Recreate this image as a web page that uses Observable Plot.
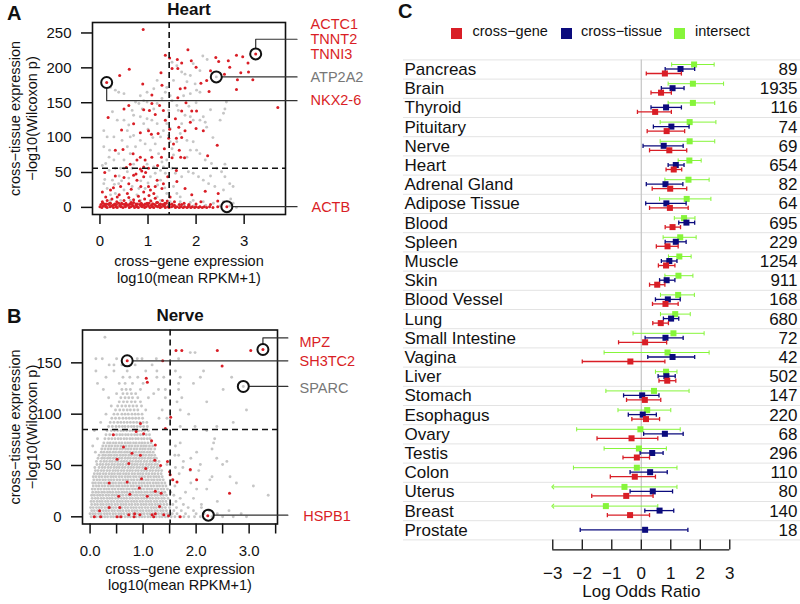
<!DOCTYPE html>
<html><head><meta charset="utf-8">
<script src="https://cdn.jsdelivr.net/npm/d3@7"></script>
<script src="https://cdn.jsdelivr.net/npm/@observablehq/plot@0.6"></script>
<style>
body{margin:0;background:#fff;}
#wrap{position:relative;width:800px;height:604px;overflow:hidden;background:#fff;font-family:"Liberation Sans",Arial,Helvetica,sans-serif;color:#111;}
.panel{position:absolute;}
.letter{position:absolute;font-weight:bold;font-size:20px;line-height:20px;}
.leg{position:absolute;font-size:14.5px;line-height:17px;top:23px;white-space:nowrap;}
.sw{position:absolute;width:11px;height:11px;top:27.5px;}
</style></head><body>
<div id="wrap">
  <div class="letter" style="left:7px;top:3px">A</div>
  <div class="letter" style="left:7px;top:306px">B</div>
  <div class="letter" style="left:398px;top:1px">C</div>
  <div class="sw" style="left:451px;background:#d91e26"></div><div class="leg" style="left:472.5px">cross−gene</div>
  <div class="sw" style="left:561px;background:#0b0b7d"></div><div class="leg" style="left:581px">cross−tissue</div>
  <div class="sw" style="left:674px;background:#86f53a"></div><div class="leg" style="left:695px">intersect</div>
</div>
<script>
const FONT = '"Liberation Sans", Arial, Helvetica, sans-serif';
const RED = "#d91e26", GRAY = "#c6c6c6", NAVY = "#0b0b7d", GREEN = "#86f53a", LABELGRAY = "#777777";

// ---------- Panel A: Heart ----------
const heartXCut = 1.44, heartYCut = 56;
const heartGray = [[1.50,208],[1.60,203],[1.94,206],[2.14,217],[2.23,212],[2.08,196],[1.70,194],[1.77,191],[1.88,189],[1.81,180],[1.98,177],[2.01,168],[2.08,165],[1.88,163],[1.74,160],[1.53,182],[1.39,172],[1.36,165],[1.46,160],[1.19,182],[1.12,170],[0.98,165],[0.84,160],[0.50,163],[0.39,165],[0.32,168],[0.22,172],[0.74,151],[0.88,141],[0.98,151],[1.12,141],[1.50,153],[1.60,146],[1.63,139],[1.77,132],[1.88,130],[1.94,125],[2.08,125],[2.19,122],[2.63,151],[2.60,141],[2.57,135],[2.50,125],[2.15,130],[2.22,115],[1.67,106],[1.60,94],[1.81,96],[1.94,94],[1.88,82],[2.01,82],[1.81,72],[2.08,77],[2.19,68],[2.32,63],[2.43,56],[2.53,51],[2.60,44],[2.70,34],[2.77,30],[2.57,25],[2.39,30],[2.26,34],[2.15,39],[2.05,44],[1.94,49],[1.84,51],[1.70,44],[1.57,49],[1.50,56],[1.53,30],[1.60,20],[1.67,15],[1.94,10],[2.15,8],[2.36,6],[2.57,8],[2.77,6],[2.84,0],[2.08,1],[2.42,187],
[0.08,110],[0.15,101],[0.08,87],[0.19,72],[0.12,63],[0.29,68],[0.29,101],[0.36,125],[0.26,137],[0.50,125],[0.57,110],[0.63,101],[0.46,96],[0.57,87],[0.39,77],[0.50,68],[0.19,53],[0.26,39],[0.39,34],[0.08,34],[0.15,27],[0.32,20],[0.50,25],[0.67,30],[0.81,27],[0.94,27],[1.05,44],[1.15,49],[1.26,53],[1.32,58],[1.36,49],[1.26,39],[1.12,58],[1.22,77],[1.15,91],[1.05,82],[0.94,91],[0.84,96],[0.74,87],[0.70,103],[0.63,77],[0.67,56],[0.57,51],[0.50,56],[0.43,56],[0.32,56],[1.26,101],[1.32,110],[1.19,120],[1.08,125],[0.98,127],[0.84,130],[0.91,120],[0.70,132],[0.67,139],[0.81,149],[0.91,153],[1.19,149],[1.29,156],[1.43,139],[1.43,130],[1.39,120],[1.46,113],[1.43,103],[1.46,94],[1.50,84],[1.53,75],[1.39,68],[1.29,65],
[0.22,10],[0.43,10],[0.63,10],[0.84,10],[1.05,10],[1.26,10],[1.46,8],[1.67,8],[1.88,7],[0.22,18],[0.77,18],[1.19,15],[1.39,20],[0.10,40],[0.30,33],[0.45,38],[0.60,42],[0.85,38],[1.00,35],[1.20,32],[1.35,28],[0.15,3],[0.35,2],[0.55,3],[0.75,2],[0.95,3],[1.15,2],[1.35,3],[1.55,2],[1.75,3],[1.95,2],[2.20,3],[2.50,2],[2.70,2],[0.05,60],[0.2,82],[0.4,45],[0.7,62],[0.98,62],[1.1,100],[0.6,118],[1.0,112],[2.35,100],[2.72,12],[2.3,45],[2.6,62],[1.7,120],[1.85,145],[2.0,150],[2.3,140]];
const heartRed = [[0.90,255],[1.83,226],[1.36,218],[1.45,214],[0.61,198],[0.41,189],[1.27,193],[1.50,199],[1.61,212],[1.70,207],[1.90,210],[2.00,201],[1.62,199],[2.41,215],[2.47,209],[2.67,210],[2.84,218],[2.97,216],[3.08,207],[2.70,201],[2.93,193],[3.09,194],[3.18,183],[2.86,183],[2.84,169],[2.59,191],[2.30,196],[2.22,182],[2.10,178],[2.27,166],[3.70,143],[1.67,170],[1.77,171],[1.29,175],[1.08,161],[0.89,177],[0.50,141],[0.17,129],[0.60,146],[0.91,140],[1.03,139],[1.24,146],[1.32,139],[1.62,157],[1.79,150],[1.70,138],[1.91,138],[2.01,138],[1.08,149],[1.15,133],[1.36,125],[1.57,127],[1.64,115],[1.88,122],[2.00,113],[2.15,110],[1.77,110],[1.45,112],[0.70,120],[0.45,111],[1.01,110],[1.21,106],[1.07,105],[0.84,107],[1.43,99],[1.59,99],[1.70,100],[1.53,91],[1.34,84],[0.32,82],[0.48,83],[0.69,77],[0.84,72],[0.94,68],[1.08,72],[0.77,68],[0.63,62],[0.84,55],[0.87,52],[0.91,58],[1.01,56],[1.28,72],[1.68,72],[1.76,71],[1.50,71],[1.65,82],[2.44,89],[2.24,74],[0.10,50],[0.32,45],[0.50,43],[0.70,46],[0.77,39],[0.91,44],[1.19,39],[1.32,34],[1.15,30],[1.01,30],[0.60,34],[0.43,30],[0.22,25],[0.05,22],[0.12,15],[0.36,15],[0.57,20],[0.91,22],[1.12,20],[1.29,27],[1.41,44],[1.59,53],[1.60,37],[1.77,27],[1.91,18],[2.19,23],[2.46,20],[1.46,15],
[0.05,8],[0.10,5],[0.15,10],[0.20,6],[0.25,12],[0.30,4],[0.35,8],[0.40,18],[0.45,6],[0.50,10],[0.55,4],[0.60,14],[0.65,7],[0.70,11],[0.75,5],[0.80,16],[0.82,9],[0.88,4],[0.93,12],[0.98,6],[1.02,17],[1.06,9],[1.10,5],[1.15,13],[1.20,7],[1.25,4],[1.30,10],[1.35,6],[1.40,9],[1.50,5],[1.55,8],[1.65,4],[1.75,6],[1.85,4],[2.00,5],[2.10,8],[2.30,4],[2.45,9],[0.28,28],[0.65,26],[0.85,30],[1.05,25],[0.75,48],[0.95,50],[1.20,60],[0.55,57],[3.24,220],[0.14,179],[2.64,1],
[0.00,1],[0.04,0],[0.07,2],[0.12,1],[0.15,0],[0.21,1],[0.24,2],[0.28,0],[0.33,1],[0.36,0],[0.41,2],[0.44,1],[0.48,0],[0.53,1],[0.56,3],[0.61,0],[0.64,1],[0.69,2],[0.72,0],[0.77,1],[0.80,0],[0.85,2],[0.88,1],[0.93,0],[0.96,1],[1.01,2],[1.04,0],[1.09,1],[1.12,0],[1.17,2],[1.20,1],[1.25,0],[1.28,1],[1.33,2],[1.36,0],[1.41,1],[1.44,0],[1.49,1],[1.52,2],[1.57,0],[1.60,1],[1.65,0],[1.68,1],[1.73,0],[1.76,1],[1.81,0],[1.84,1],[1.89,0],[1.92,1],[1.97,0],[2.00,1],[2.05,0],[2.08,1],[2.13,0],[2.17,1],[2.22,0],[2.28,1],[2.35,0],[2.45,1],
[0.02,4],[0.06,6],[0.11,3],[0.14,5],[0.19,4],[0.22,6],[0.27,3],[0.31,5],[0.34,4],[0.39,6],[0.42,3],[0.47,5],[0.51,4],[0.54,6],[0.59,3],[0.62,5],[0.67,4],[0.70,7],[0.75,3],[0.78,5],[0.83,4],[0.86,6],[0.91,3],[0.94,5],[0.99,4],[1.02,6],[1.07,3],[1.10,5],[1.14,4],[1.18,7],[1.23,3],[1.26,5],[1.31,4],[1.34,3],[1.38,6],[1.45,4],[1.55,3],[1.70,4],[1.85,3]];
const heartCircles = [[3.24,220],[2.42,187],[0.14,179],[2.64,1]];
const heartLabels = [["ACTC1",4.38,263,RED],["TNNT2",4.38,241,RED],["TNNI3",4.38,219.6,RED],["ATP2A2",4.38,187,LABELGRAY],["NKX2-6",4.38,153,RED],["ACTB",4.40,0,RED]];
const heartLeaders = [[[3.24,228],[3.24,241],[4.10,241]],[[2.535,187],[4.10,187]],[[0.14,171],[0.14,153],[4.10,153]],[[2.755,1],[4.10,1]]];

// ---------- Panel B: Nerve ----------
const nerveXCut = 1.51, nerveYCut = 85;
const nerveGrayRows = [
[0,[0.02,0.07,0.12,0.18,0.23,0.28,0.33,0.39,0.44,0.49,0.55,0.6,0.66,0.71,0.76,0.82,0.87,0.93,0.98,1.03,1.09,1.14,1.2,1.25,1.31,1.36,1.42,1.47,1.53,1.6,1.68,1.77,1.86,1.97,2.08,2.3,2.5,2.7,2.95]],
[3,[0.0,0.05,0.1,0.16,0.21,0.27,0.32,0.37,0.43,0.48,0.54,0.59,0.64,0.7,0.75,0.81,0.86,0.91,0.97,1.02,1.08,1.13,1.18,1.24,1.29,1.35,1.4,1.46,1.55,1.64,1.8,2.0,2.15,2.4,2.85]],
[6,[0.03,0.08,0.14,0.19,0.25,0.3,0.35,0.41,0.46,0.52,0.57,0.62,0.68,0.73,0.79,0.84,0.89,0.95,1.0,1.06,1.11,1.16,1.22,1.27,1.33,1.38,1.44,1.58,1.72,1.95,2.25,2.62]],
[9,[0.01,0.06,0.12,0.17,0.22,0.28,0.33,0.39,0.44,0.49,0.55,0.6,0.66,0.71,0.77,0.82,0.87,0.93,0.98,1.04,1.09,1.15,1.2,1.25,1.31,1.36,1.42,1.5,1.63,1.85,2.1]],
[12,[0.03,0.09,0.14,0.2,0.25,0.31,0.36,0.41,0.47,0.52,0.58,0.63,0.68,0.74,0.79,0.85,0.9,0.96,1.01,1.06,1.12,1.17,1.23,1.28,1.33,1.39,1.45,1.56,1.76,2.1]],
[15,[0.02,0.07,0.13,0.18,0.23,0.29,0.34,0.4,0.45,0.51,0.56,0.61,0.67,0.72,0.78,0.83,0.88,0.94,0.99,1.05,1.1,1.15,1.21,1.26,1.32,1.37,1.43,1.62,2.4]],
[18,[0.04,0.1,0.15,0.21,0.26,0.32,0.37,0.42,0.48,0.53,0.59,0.64,0.69,0.75,0.8,0.86,0.91,0.97,1.02,1.07,1.13,1.18,1.24,1.29,1.35,1.4,1.47,1.7,1.95]],
[21,[0.03,0.08,0.14,0.19,0.24,0.3,0.35,0.41,0.46,0.51,0.57,0.62,0.68,0.73,0.78,0.84,0.89,0.95,1.0,1.05,1.11,1.16,1.22,1.27,1.33,1.38,1.44,1.58,3.36]],
[24,[0.05,0.11,0.16,0.22,0.27,0.33,0.38,0.43,0.49,0.54,0.6,0.65,0.7,0.76,0.81,0.87,0.92,0.97,1.03,1.08,1.14,1.19,1.25,1.3,1.36,1.41,1.52,1.8]],
[27,[0.04,0.09,0.15,0.2,0.26,0.31,0.36,0.42,0.47,0.53,0.58,0.63,0.69,0.74,0.8,0.85,0.9,0.96,1.01,1.07,1.12,1.17,1.23,1.28,1.34,1.39,1.46,2.2,2.01]],
[30,[0.06,0.12,0.17,0.23,0.28,0.34,0.39,0.44,0.5,0.55,0.61,0.66,0.71,0.77,0.82,0.88,0.93,0.98,1.04,1.09,1.15,1.2,1.26,1.31,1.37,1.43,1.6,3.08]],
[33,[0.05,0.1,0.16,0.21,0.27,0.32,0.38,0.43,0.48,0.54,0.59,0.65,0.7,0.75,0.81,0.86,0.92,0.97,1.02,1.08,1.13,1.19,1.24,1.29,1.35,1.41,1.9,2.76]],
[36,[0.07,0.13,0.18,0.24,0.29,0.35,0.4,0.45,0.51,0.56,0.62,0.67,0.72,0.78,0.83,0.89,0.94,0.99,1.05,1.1,1.16,1.21,1.27,1.32,1.38,1.55,2.26]],
[39,[0.06,0.11,0.17,0.22,0.28,0.33,0.39,0.44,0.49,0.55,0.6,0.66,0.71,0.76,0.82,0.87,0.93,0.98,1.03,1.09,1.14,1.2,1.25,1.3,1.36,2.3,2.64]],
[42,[0.08,0.14,0.19,0.25,0.3,0.36,0.41,0.46,0.52,0.57,0.63,0.68,0.73,0.79,0.84,0.9,0.95,1.0,1.06,1.11,1.17,1.22,1.28,1.34,1.68]],
[45,[0.1,0.15,0.21,0.26,0.32,0.37,0.43,0.48,0.53,0.59,0.64,0.7,0.75,0.8,0.86,0.91,0.97,1.02,1.07,1.13,1.18,1.24,1.29,1.35,2.05,1.89]],
[48,[0.09,0.17,0.23,0.28,0.34,0.39,0.45,0.5,0.55,0.61,0.66,0.72,0.77,0.82,0.88,0.93,0.99,1.04,1.09,1.15,1.2,1.26,1.31,1.75,1.61]],
[51,[0.13,0.19,0.24,0.3,0.35,0.41,0.46,0.52,0.57,0.62,0.68,0.73,0.79,0.84,0.89,0.95,1.0,1.06,1.11,1.16,1.22,1.27,1.45,2.5,2.08]],
[54,[0.12,0.2,0.26,0.31,0.37,0.42,0.48,0.53,0.59,0.64,0.69,0.75,0.8,0.86,0.91,0.96,1.02,1.07,1.13,1.18,1.24,1.3,1.76,2.58]],
[57,[0.15,0.22,0.27,0.33,0.38,0.44,0.49,0.55,0.6,0.66,0.71,0.76,0.82,0.87,0.93,0.98,1.03,1.09,1.14,1.2,1.25,1.9,2.39]],
[60,[0.17,0.24,0.29,0.35,0.4,0.46,0.51,0.57,0.62,0.67,0.73,0.78,0.84,0.89,0.94,1.0,1.05,1.11,1.16,1.22,1.6,1.67]],
[63,[0.1,0.21,0.26,0.32,0.37,0.43,0.48,0.54,0.59,0.65,0.7,0.75,0.81,0.86,0.92,0.97,1.02,1.08,1.13,1.19,2.01]],
[66,[0.22,0.28,0.34,0.39,0.45,0.5,0.56,0.61,0.67,0.72,0.77,0.83,0.88,0.94,0.99,1.04,1.1,1.15,1.22,2.3]],
[69,[0.05,0.24,0.3,0.36,0.41,0.47,0.52,0.58,0.63,0.68,0.74,0.79,0.85,0.9,0.96,1.01,1.06,1.12,1.18,1.61]],
[72,[0.26,0.33,0.38,0.44,0.49,0.55,0.6,0.66,0.71,0.76,0.82,0.87,0.93,0.98,1.03,1.09,1.15,1.7,2.33]],
[76,[0.14,0.28,0.35,0.41,0.47,0.53,0.58,0.64,0.69,0.75,0.8,0.86,0.91,0.97,1.02,1.08,1.13,2.35]],
[80,[0.3,0.37,0.43,0.5,0.56,0.61,0.67,0.72,0.78,0.84,0.89,0.95,1.0,1.06,1.12]],
[84,[0.08,0.32,0.4,0.46,0.52,0.58,0.63,0.69,0.75,0.8,0.86,0.92,0.97,1.03,1.1,2.2]],
[88,[0.35,0.42,0.49,0.55,0.61,0.66,0.72,0.78,0.83,0.89,0.95,1.01,1.08,1.7,1.98,2.39]],
[92,[0.2,0.38,0.45,0.52,0.58,0.64,0.7,0.76,0.82,0.88,0.94,1.0,1.07,2.7]],
[96,[0.41,0.48,0.55,0.62,0.68,0.74,0.8,0.86,0.92,0.99,1.3,1.45]],
[100,[0.3,0.45,0.52,0.6,0.66,0.72,0.79,0.85,0.91,0.98,1.86]],
[104,[0.48,0.56,0.63,0.7,0.76,0.83,0.9,1.05,1.7,2.95,1.36]],
[108,[0.4,0.52,0.6,0.67,0.74,0.81,0.88,0.97]],
[112,[0.55,0.63,0.7,0.78,0.85,0.95,1.64,2.2]],
[116,[0.35,0.58,0.66,0.73,0.8,0.9,1.1,1.42,1.73]],
[120,[0.5,0.62,0.7,0.78,0.86,1.2]],
[124,[0.25,0.6,0.68,0.76,0.95,1.42,1.67,2.51,1.29]],
[130,[0.14,0.55,0.66,0.8,1.0,1.67,1.95]],
[136,[0.3,0.62,0.75,0.9,1.26,1.39,1.7,2.08,2.67]],
[142,[0.11,0.45,0.7,1.05,1.26,1.61,2.14]],
[148,[0.36,0.6,0.85,1.17,0.45]],
[154,[0.11,0.23,0.5,0.89,1.25,0.98,1.67]],
[160,[1.89,1.98]],
[175,[0.28]]];
const nerveGray = nerveGrayRows.flatMap(([y, xs]) => xs.map(x => [x, y])).concat([[2.89,127]]);
const nerveRed = [[1.62,162],[1.73,162],[2.40,162],[3.03,162],[3.26,163],[2.49,147],[0.70,152],[1.06,135],[1.08,131],[1.37,152],[1.52,97],[0.95,91],[0.87,83],[0.44,80],[1.01,81],[1.42,86],[1.16,74],[1.23,70],[0.63,68],[0.79,62],[0.95,60],[0.51,56],[0.73,52],[1.05,47],[1.22,55],[1.33,50],[1.46,54],[1.89,46],[1.51,41],[1.56,36],[2.01,36],[0.97,37],[1.64,34],[0.36,33],[0.70,34],[0.93,28],[1.23,25],[1.34,23],[0.75,22],[0.54,20],[1.08,20],[2.63,23],[0.18,6],[0.36,9],[0.56,9],[0.73,2],[0.84,3],[0.94,2],[1.17,2],[1.23,3],[1.31,10],[1.39,2],[1.48,1],[1.70,0],[0.08,0],[0.51,0],[0.58,0],[0.83,0],[1.20,0],[2.22,1],[0.20,0],[1.50,44]];
const nerveCircles = [[3.26,163],[0.70,152],[2.89,127],[2.23,1.6]];
const nerveLabels = [["MPZ",3.95,169.7,RED],["SH3TC2",3.95,151.7,RED],["SPARC",3.95,125.4,LABELGRAY],["HSPB1",4.02,0,RED]];
const nerveLeaders = [[[3.26,168.4],[3.26,174.3],[3.73,174.3]],[[0.80,152],[3.73,152]],[[2.99,127],[3.73,127]],[[2.33,1.6],[3.73,1.6]]];

// ---------- Panel C ----------
const tissues = ["Pancreas","Brain","Thyroid","Pituitary","Nerve","Heart","Adrenal Gland","Adipose Tissue","Blood","Spleen","Muscle","Skin","Blood Vessel","Lung","Small Intestine","Vagina","Liver","Stomach","Esophagus","Ovary","Testis","Colon","Uterus","Breast","Prostate"];
const counts = [89,1935,116,74,69,654,82,64,695,229,1254,911,168,680,72,42,502,147,220,68,296,110,80,140,18];
// [estimate, lower, upper]
const crossGene = [[0.80,0.17,1.36],[0.67,0.33,1.02],[0.47,-0.13,1.02],[0.86,0.20,1.47],[0.95,0.28,1.54],[1.10,0.84,1.37],[0.98,0.37,1.54],[0.97,0.28,1.59],[1.06,0.81,1.33],[0.89,0.51,1.25],[0.84,0.58,1.14],[0.54,0.28,0.80],[0.82,0.38,1.25],[0.66,0.39,0.92],[0.13,-0.77,0.86],[-0.37,-2.00,0.80],[0.88,0.60,1.17],[0.12,-0.50,0.66],[0.16,-0.32,0.62],[-0.33,-1.50,0.56],[-0.15,-0.62,0.28],[-0.22,-1.05,0.48],[-0.51,-1.68,0.40],[-0.38,-1.15,0.28],null];
const crossTissue = [[1.33,0.81,1.81],[1.06,0.68,1.45],[0.84,0.33,1.36],[1.02,0.41,1.62],[0.76,0.06,1.42],[1.17,0.91,1.45],[0.82,0.17,1.41],[0.85,0.15,1.52],[1.53,1.27,1.81],[1.17,0.81,1.52],[0.95,0.68,1.21],[0.86,0.62,1.14],[0.90,0.48,1.32],[1.01,0.75,1.27],[0.82,0.13,1.42],[1.06,0.22,1.81],[0.85,0.57,1.15],[0.03,-0.60,0.60],[0.05,-0.44,0.51],[0.80,0.08,1.42],[0.37,-0.04,0.74],[0.30,-0.38,0.88],[0.39,-0.38,1.06],[0.62,0.12,1.10],[0.13,-2.07,1.58]];
const intersect = [[1.79,1.03,2.47],[1.75,0.91,2.79],[1.75,0.91,2.49],[1.64,0.64,2.53],[1.64,0.64,2.49],[1.63,1.25,2.03],[1.60,0.80,2.30],[1.54,0.62,2.36],[1.45,1.12,1.82],[1.32,0.74,1.86],[1.29,0.92,1.69],[1.26,0.80,1.75],[1.25,0.65,1.80],[1.15,0.65,1.66],[1.09,-0.28,2.13],[0.89,-1.26,2.30],[0.84,0.48,1.21],[0.43,-1.20,1.62],[0.20,-0.79,1.00],[-0.03,-2.19,1.32],[-0.08,-1.26,0.85],[-0.15,-2.30,1.21],[-0.57,-3.6,1.21],[-1.20,-3.6,0.56],null];
const oddsTicks = [-3,-2,-1,0,1,2,3];

// ---------- helpers ----------
function leaderRows(leaders){ return leaders.flatMap((L,k)=>L.map(p=>({x:p[0],y:p[1],k}))); }

function scatterPanel(o){
  return Plot.plot({
    width: 390, height: o.height,
    marginLeft: o.ml, marginTop: o.mt, marginRight: o.mr, marginBottom: o.mb,
    style: {fontFamily: FONT, fontSize: "15px", color: "#111", background: "transparent", overflow: "visible"},
    x: {domain: o.xdom},
    y: {domain: o.ydom},
    marks: [
      Plot.dot(o.gray, {x: d=>d[0], y: d=>d[1], r: 1.45, fill: GRAY}),
      Plot.dot(o.red, {x: d=>d[0], y: d=>d[1], r: 1.5, fill: RED}),
      Plot.ruleY([o.ycut], {stroke: "#111", strokeWidth: 1.6, strokeDasharray: "6,4"}),
      Plot.ruleX([o.xcut], {stroke: "#111", strokeWidth: 1.6, strokeDasharray: "6,4"}),
      Plot.frame({stroke: "#111", strokeWidth: 1.6}),
      Plot.axisX({ticks: o.xticks, tickFormat: o.xfmt, tickSize: 10, tickPadding: 11, strokeWidth: 1.5, label: null, fontSize: 15}),
      Plot.axisY({ticks: o.yticks, tickSize: 11, tickPadding: 10, strokeWidth: 1.5, label: null, fontSize: 15}),
      Plot.line(leaderRows(o.leaders), {x: "x", y: "y", z: "k", stroke: "#333", strokeWidth: 1.2}),
      Plot.dot(o.circles, {x: d=>d[0], y: d=>d[1], r: 5.5, stroke: "#111", strokeWidth: 2, fill: "none"}),
      Plot.text(o.labels, {x: d=>d[1], y: d=>d[2], text: d=>d[0], fill: d=>d[3], textAnchor: "start", fontSize: 14.5}),
      Plot.text([o.title], {text: d=>d, frameAnchor: "top", lineAnchor: "middle", dy: o.titleDy, fontWeight: "bold", fontSize: 17}),
      Plot.text(["cross−gene expression"], {text: d=>d, frameAnchor: "bottom", lineAnchor: "middle", dy: o.xl1, fontSize: 14.5}),
      Plot.text(["log10(mean RPKM+1)"], {text: d=>d, frameAnchor: "bottom", lineAnchor: "middle", dy: o.xl2, fontSize: 14.5}),
      Plot.text(["cross−tissue expression"], {text: d=>d, frameAnchor: "left", textAnchor: "middle", lineAnchor: "middle", dx: o.yl1, rotate: -90, fontSize: 14.5}),
      Plot.text(["−log10(Wilcoxon p)"], {text: d=>d, frameAnchor: "left", textAnchor: "middle", lineAnchor: "middle", dx: o.yl2, rotate: -90, fontSize: 14.5})
    ]
  });
}

const wrap = document.getElementById("wrap");
function place(node, left, top){ node.classList.add("panel"); node.style.left = left+"px"; node.style.top = top+"px"; wrap.appendChild(node); }

const panelA = scatterPanel({
  height: 300, ml: 92, mt: 22, mr: 105, mb: 86,
  xdom: [-0.155, 3.86], ydom: [-10.2, 265],
  gray: heartGray, red: heartRed, xcut: heartXCut, ycut: heartYCut,
  xticks: [0,1,2,3], xfmt: d=>String(d), yticks: [0,50,100,150,200,250],
  leaders: heartLeaders, circles: heartCircles, labels: heartLabels,
  title: "Heart", titleDy: -13, xl1: 47, xl2: 64, yl1: -77, yl2: -60
});
place(panelA, 0, 0);

const panelB = scatterPanel({
  height: 304, ml: 82, mt: 29.5, mr: 113, mb: 80.5,
  xdom: [-0.143, 3.535], ydom: [-7, 182],
  gray: nerveGray, red: nerveRed, xcut: nerveXCut, ycut: nerveYCut,
  xticks: [0,0.5,1,1.5,2,2.5,3,3.5], xfmt: d=>Number.isInteger(d) ? d.toFixed(1) : "", yticks: [0,50,100,150],
  leaders: nerveLeaders, circles: nerveCircles, labels: nerveLabels,
  title: "Nerve", titleDy: -14.5, xl1: 45.5, xl2: 61.5, yl1: -67, yl2: -50
});
place(panelB, 0, 300);

// forest plot
const seriesC = [
  {vals: intersect, color: GREEN, dy: -5, w: 1},
  {vals: crossTissue, color: NAVY, dy: -0.5, w: 1.3},
  {vals: crossGene, color: RED, dy: 4, w: 1.3}
];
const forestMarks = [];
for (const s of seriesC){
  const rows = s.vals.map((v,i)=> v ? {i, est: v[0], lo: v[1], hi: v[2]} : null).filter(Boolean);
  const inside = rows.filter(r => r.lo >= -3);
  const clipped = rows.filter(r => r.lo < -3);
  forestMarks.push(
    Plot.link(inside, {x1: "lo", x2: "hi", y1: "i", y2: "i", stroke: s.color, strokeWidth: s.w, dy: s.dy}),
    Plot.link(clipped, {x1: "hi", x2: () => -3, y1: "i", y2: "i", stroke: s.color, strokeWidth: s.w, dy: s.dy, markerEnd: "arrow"}),
    Plot.link(inside, {x1: "lo", x2: "lo", y1: r=>r.i-0.11, y2: r=>r.i+0.11, stroke: s.color, strokeWidth: s.w, dy: s.dy}),
    Plot.link(rows, {x1: "hi", x2: "hi", y1: r=>r.i-0.11, y2: r=>r.i+0.11, stroke: s.color, strokeWidth: s.w, dy: s.dy}),
    Plot.dot(rows, {x: "est", y: "i", symbol: "square", r: 3.4, fill: s.color, dy: s.dy})
  );
}
const rowEdges = tissues.map((t,i)=>i-0.5).concat([tissues.length-0.5]);
const panelC = Plot.plot({
  width: 410, height: 604,
  marginLeft: 13, marginRight: 0, marginTop: 59.4, marginBottom: 64.6,
  style: {fontFamily: FONT, fontSize: "17px", color: "#111", background: "transparent", overflow: "visible"},
  x: {domain: [-8.06, 5.397]},
  y: {domain: [-0.5, tissues.length-0.5], reverse: true, axis: null},
  marks: [
    Plot.ruleY(rowEdges, {stroke: "#e3e3e3", strokeWidth: 1}),
    Plot.ruleX([0], {y1: -0.5, y2: tissues.length-0.5, stroke: "#c4c4c4", strokeWidth: 1.2}),
    ...forestMarks,
    Plot.text(tissues, {y: (d,i)=>i, text: d=>d, frameAnchor: "left", textAnchor: "start", dx: 1, fontSize: 17}),
    Plot.text(counts, {y: (d,i)=>i, text: d=>String(d), frameAnchor: "right", textAnchor: "end", dx: -3, fontSize: 17}),
    Plot.axisX({ticks: oddsTicks, tickSize: 10, tickPadding: 17, strokeWidth: 1.3, label: null, fontSize: 17}),
    Plot.ruleY([tissues.length-0.5], {x1: -3, x2: 3, dy: 10, stroke: "#111", strokeWidth: 1.3}),
    Plot.text([0], {x: d=>d, text: () => "Log Odds Ratio", frameAnchor: "bottom", lineAnchor: "middle", dy: 52, fontSize: 17})
  ]
});
place(panelC, 390, 0);
</script>
</body></html>
